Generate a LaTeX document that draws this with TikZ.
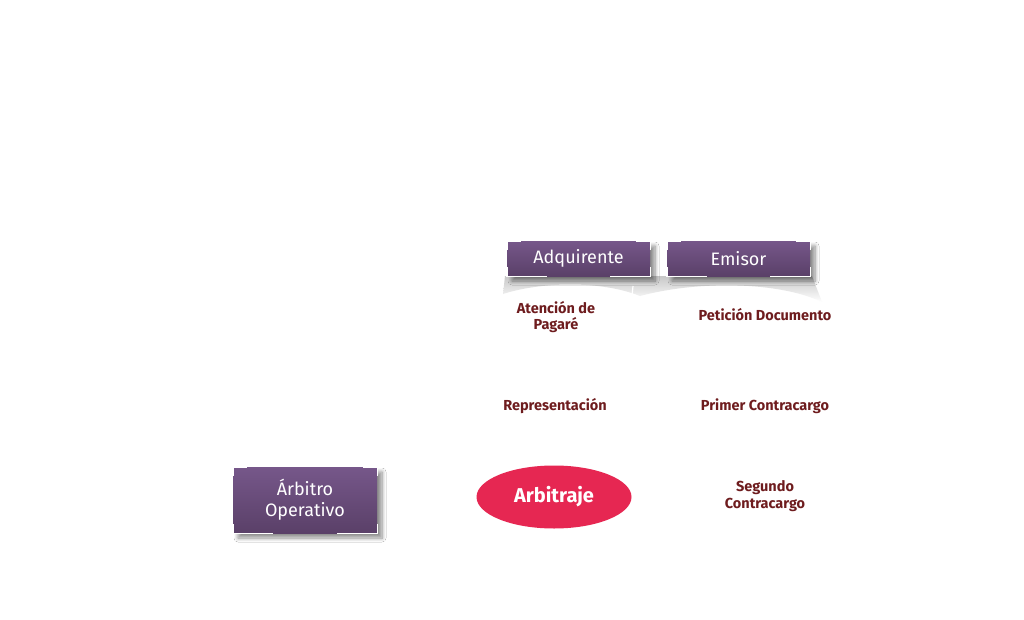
\documentclass[tikz,border=0pt]{standalone}
\usepackage{fontspec}
\setmainfont{Fira Sans}
\usetikzlibrary{shadows,shadows.blur,shapes.geometric,calc}
\definecolor{boxtop}{HTML}{76578A}
\definecolor{boxbot}{HTML}{5A4068}
\definecolor{labelred}{HTML}{6E1C1E}
\definecolor{arbred}{HTML}{E62752}
\tikzset{
  rolebox/.style={minimum width=143pt, minimum height=35pt, inner sep=0pt,
    top color=boxtop, bottom color=boxbot, text=white, font=\fontsize{18}{21}\selectfont,
    align=center,
    blur shadow={shadow xshift=5pt, shadow yshift=-5pt, shadow opacity=45, shadow blur steps=8, shadow blur radius=4pt}},
  steplabel/.style={text=labelred, font=\bfseries\fontsize{14.5}{16.5}\selectfont, align=center, inner sep=0pt},
  corner/.style={draw=white, line width=1.4pt},
}
\newcommand{\cornermarks}[1]{%
  \draw[corner] ($(#1.north west)+(0,-9pt)$) -- (#1.north west) -- ++(14pt,0);
  \draw[corner] ($(#1.north east)+(-14pt,0)$) -- (#1.north east) -- ++(0,-9pt);
  \draw[corner] ($(#1.south west)+(0,9pt)$) -- (#1.south west) -- ++(40pt,0);
  \draw[corner] ($(#1.south east)+(-40pt,0)$) -- (#1.south east) -- ++(0,9pt);
}
\begin{document}
\begin{tikzpicture}[x=1pt,y=-1pt]
  \useasboundingbox (0,0) rectangle (1024,620);
  \fill[white] (0,0) rectangle (1024,620);

  % curled shadows under the top boxes
  \shade[top color=black!22, bottom color=white]
    (505,276) -- (812,276) -- (822,302) .. controls (780,282) and (700,280) .. (640,296)
    .. controls (600,280) and (540,282) .. (503,294) -- cycle;
  \draw[white, line width=1.2pt] (633,286) -- (632,296);

  % role boxes
  \node[rolebox] (adq) at (578.5,258.5) {Adquirente};
  \node[rolebox] (emi) at (738.5,258.5) {Emisor};
  \node[rolebox, minimum width=144pt, minimum height=66pt] (arb) at (305,500) {Árbitro\\Operativo};
  \cornermarks{adq}
  \cornermarks{emi}
  \cornermarks{arb}

  % process steps
  \node[steplabel] (aten) at (556,317) {Atención de\\Pagaré};
  \node[steplabel] (pet) at (765,315) {Petición Documento};
  \node[steplabel] (rep) at (555,406) {Representación};
  \node[steplabel] (prim) at (765,406) {Primer Contracargo};
  \node[steplabel] (seg) at (765,496) {Segundo\\Contracargo};
  \node[ellipse, fill=arbred, minimum width=155pt, minimum height=63pt, inner sep=0pt,
        text=white, font=\bfseries\fontsize{20}{22}\selectfont] (arbit) at (554,497) {Arbitraje};
\end{tikzpicture}
\end{document}
